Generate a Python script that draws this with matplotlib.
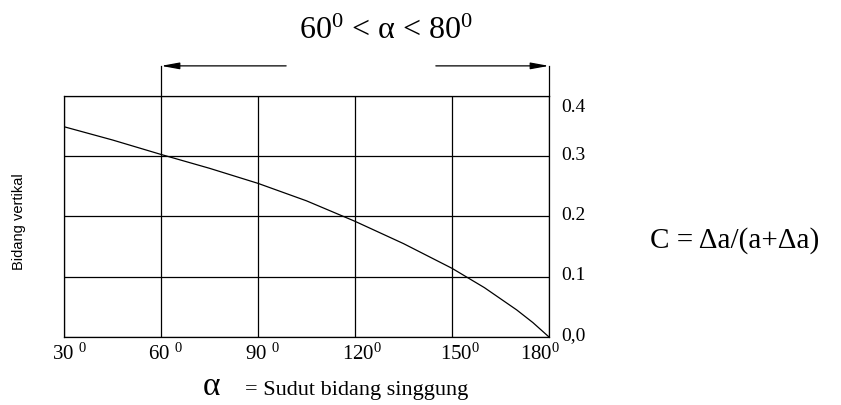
import numpy as np
import matplotlib
matplotlib.use("Agg")
import matplotlib.pyplot as plt
from matplotlib.transforms import ScaledTranslation

plt.rcParams['font.family'] = ['Liberation Serif', 'DejaVu Serif']
plt.rcParams['mathtext.fontset'] = 'custom'
plt.rcParams['mathtext.rm'] = 'Liberation Serif'
plt.rcParams['mathtext.it'] = 'Liberation Serif:italic'

# Data
sudut = [30, 45, 60, 75, 90, 105, 120, 135, 150, 160, 170, 175, 180]
nilai_c = [0.349, 0.327, 0.303, 0.280, 0.255, 0.226, 0.192, 0.155, 0.114, 0.082, 0.045, 0.024, 0.0]

x_ticks = [30, 60, 90, 120, 150, 180]
x_labels = ['30 $^{0}$', '60 $^{0}$', '90 $^{0}$', '120$^{0}$', '150$^{0}$', '180$^{0}$']
y_ticks = [0.0, 0.1, 0.2, 0.3, 0.4]
y_labels = ['0,0', '0.1', '0.2', '0.3', '0.4']

fig = plt.figure(figsize=(8.41, 4.05), dpi=100)
ax = fig.add_axes([64 / 841, 1 - 337 / 405, 485 / 841, 241 / 405])

ax.plot(sudut, nilai_c, color='black', linewidth=0.9)

ax.set_xlim(30, 180)
ax.set_ylim(0, 0.4)
ax.set_xticks(x_ticks)
ax.set_xticklabels(x_labels, fontsize=15)
ax.set_yticks(y_ticks)
ax.set_yticklabels(y_labels, fontsize=14)
ax.yaxis.tick_right()
ax.tick_params(axis='both', length=0)
ax.tick_params(axis='y', pad=9)
ax.tick_params(axis='x', pad=5)
ax.grid(True, color='black', linewidth=0.9)
for s in ax.spines.values():
    s.set_linewidth(0.9)

# small horizontal nudges (px) so the digits sit under the grid lines like the original
x_nudge = [5, 4, 4, 7, 8, -9]
for lab, dx in zip(ax.get_xticklabels(), x_nudge):
    lab.set_ha('center')
    lab.set_transform(lab.get_transform() + ScaledTranslation(dx / 100, 0, fig.dpi_scale_trans))
for lab, v in zip(ax.get_yticklabels(), y_ticks):
    dy = -10 if v == 0.4 else 3
    lab.set_transform(lab.get_transform() + ScaledTranslation(0, dy / 100, fig.dpi_scale_trans))

# range arrows above the plot
y_arrow = 0.45
ax.plot([60, 60], [0.4, y_arrow], color='black', linewidth=0.9, clip_on=False)
ax.plot([180, 180], [0.4, y_arrow], color='black', linewidth=0.9, clip_on=False)
arr = dict(arrowstyle='-|>,head_length=1.1,head_width=0.2', color='black', lw=0.9,
           shrinkA=0, shrinkB=0)
ax.annotate('', xy=(60, y_arrow), xytext=(98.7, y_arrow), arrowprops=arr, annotation_clip=False)
ax.annotate('', xy=(180, y_arrow), xytext=(145, y_arrow), arrowprops=arr, annotation_clip=False)

fig.text(386 / 841, 1 - 39 / 405, '60$^{0}$ < α < 80$^{0}$', fontsize=23, ha='center', va='baseline')
fig.text(650 / 841, 1 - 248 / 405, 'C = Δa/(a+Δa)', fontsize=21, ha='left', va='baseline')
fig.text(212 / 841, 1 - 395 / 405, 'α', fontsize=24, ha='center', va='baseline')
fig.text(245 / 841, 1 - 395 / 405, '= Sudut bidang singgung', fontsize=16, ha='left', va='baseline')
fig.text(19 / 841, 1 - 222 / 405, 'Bidang vertikal', fontsize=10.5, rotation=90,
         ha='center', va='center', family='Liberation Sans')

fig.savefig('out.png', dpi=100)
